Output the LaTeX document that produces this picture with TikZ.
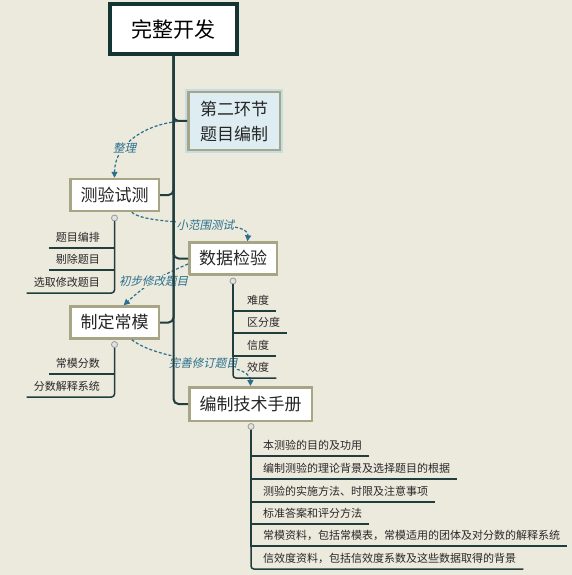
\documentclass[tikz,border=0pt]{standalone}
\usepackage{fontspec}
\setmainfont{Noto Sans CJK SC}
\newfontfamily\relfont[FakeSlant=0.22]{Noto Sans CJK SC}
\usetikzlibrary{arrows.meta,positioning}
\definecolor{paper}{RGB}{236,233,221}
\definecolor{boxline}{RGB}{168,164,134}
\definecolor{rootline}{RGB}{21,52,52}
\definecolor{trunkcol}{RGB}{32,62,62}
\definecolor{relcol}{RGB}{40,112,140}
\definecolor{stagefill}{RGB}{222,237,242}
\definecolor{stageglow}{RGB}{196,222,232}
\definecolor{knobfill}{RGB}{226,226,226}
\definecolor{leaftext}{RGB}{40,40,40}
\begin{document}
\begin{tikzpicture}[x=1pt,y=-1pt,>={Triangle[length=6pt,width=6pt]},
root/.style={draw=rootline,line width=4pt,fill=white,minimum width=127pt,minimum height=50pt,font=\fontsize{21}{24}\selectfont},
topic/.style={draw=boxline,line width=2.5pt,fill=white,minimum height=32pt,font=\fontsize{17}{20}\selectfont,text=black!85,inner xsep=7pt},
stagebox/.style={topic,fill=stagefill,preaction={draw=stageglow,line width=6pt},align=center,font=\fontsize{17}{25}\selectfont},
knob/.style={circle,draw=gray!80,fill=knobfill,inner sep=0pt,minimum size=6pt,line width=0.8pt},
leaf/.style={font=\fontsize{11}{13}\selectfont,text=leaftext,inner xsep=7pt,inner ysep=4pt,text height=8.5pt,text depth=2pt},
trunk/.style={draw=trunkcol,line width=2pt,rounded corners=5pt},
twig/.style={draw=trunkcol,line width=1.5pt},
rel/.style={->,draw=relcol,line width=1.2pt,dash pattern=on 3pt off 2pt},
rellabel/.style={font=\relfont\fontsize{11.5}{13}\selectfont,text=relcol,fill=paper,inner sep=1pt}]
\fill[paper] (0,0) rectangle (572,575);
\useasboundingbox (0,0) rectangle (572,575);
\node[root] (root) at (173.5,29) {完整开发};
\node[stagebox,minimum width=91.5pt,minimum height=57.5pt] (stage) at (234,121) {第二环节\\题目编制};
\node[topic,minimum width=88.5pt] (trial) at (114.5,195) {测验试测};
\node[topic,minimum width=87.5pt] (check) at (233,258.5) {数据检验};
\node[topic,minimum width=88.5pt] (norm) at (114.5,322.5) {制定常模};
\node[topic,minimum width=122.5pt,minimum height=33.5pt] (manual) at (250.5,404) {编制技术手册};
\node[knob] (trialdot) at (114.5,218) {};
\node[knob] (normdot) at (114.5,344.5) {};
\node[knob] (checkdot) at (233,281) {};
\node[knob] (manualdot) at (251,426.5) {};
\node[leaf,anchor=south east] (t1) at (107,248) {题目编排};
\node[leaf,anchor=south east] (t2) at (107,270) {剔除题目};
\node[leaf,anchor=south east] (t3) at (107,293) {选取修改题目};
\node[leaf,anchor=south east] (n1) at (107,374) {常模分数};
\node[leaf,anchor=south east] (n2) at (107,397) {分数解释系统};
\node[leaf,anchor=south west] (k1) at (240,311) {难度};
\node[leaf,anchor=south west] (k2) at (240,333) {区分度};
\node[leaf,anchor=south west] (k3) at (240,356) {信度};
\node[leaf,anchor=south west] (k4) at (240,378) {效度};
\node[leaf,anchor=south west] (m1) at (256,456) {本测验的目的及功用};
\node[leaf,anchor=south west] (m2) at (256,479) {编制测验的理论背景及选择题目的根据};
\node[leaf,anchor=south west] (m3) at (256,502) {测验的实施方法、时限及注意事项};
\node[leaf,anchor=south west] (m4) at (256,524) {标准答案和评分方法};
\node[leaf,anchor=south west] (m5) at (256,546) {常模资料，包括常模表，常模适用的团体及对分数的解释系统};
\node[leaf,anchor=south west] (m6) at (256,569) {信效度资料，包括信效度系数及这些数据取得的背景};
\draw[rel] (stage.west) to[out=180,in=90] node[rellabel,pos=0.68] {整理} (trial.north);
\draw[rel] (trial.-45) .. controls (150,228) and (250,218) .. node[rellabel,pos=0.55] {小范围测试} (check.50);
\draw[rel] (check.187) to[bend right=10] node[rellabel] {初步修改题目} (norm.62);
\draw[rel] (norm.-45) .. controls (165,365) and (250,360) .. node[rellabel] {完善修订题目} (manual.north);
\draw[trunk] (root.south) |- (stage.west);
\draw[trunk] (root.south) |- (trial.east);
\draw[trunk] (root.south) |- (check.west);
\draw[trunk] (root.south) |- (norm.east);
\draw[trunk] (root.south) |- (manual.west);
\draw[twig] (trialdot.south) |- (t1.south west);
\draw[twig] (trialdot.south) |- (t2.south west);
\draw[twig,rounded corners=3pt] (trialdot.south) |- (t3.south west);
\draw[twig] (normdot.south) |- (n1.south west);
\draw[twig,rounded corners=3pt] (normdot.south) |- (n2.south west);
\draw[twig] (checkdot.south) |- (k1.south east);
\draw[twig] (checkdot.south) |- (k2.south east);
\draw[twig] (checkdot.south) |- (k3.south east);
\draw[twig,rounded corners=3pt] (checkdot.south) |- (k4.south east);
\draw[twig] (manualdot.south) |- (m1.south east);
\draw[twig] (manualdot.south) |- (m2.south east);
\draw[twig] (manualdot.south) |- (m3.south east);
\draw[twig] (manualdot.south) |- (m4.south east);
\draw[twig] (manualdot.south) |- (m5.south east);
\draw[twig,rounded corners=3pt] (manualdot.south) |- (m6.south east);
\end{tikzpicture}
\end{document}
